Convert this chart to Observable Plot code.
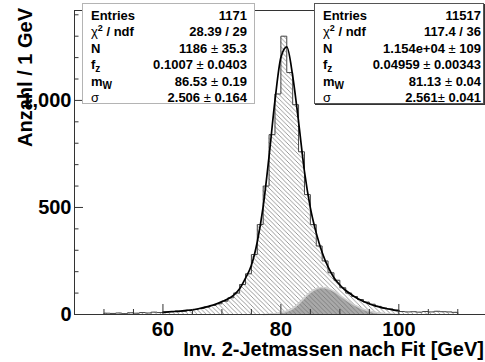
<!DOCTYPE html>
<html><head><meta charset="utf-8">
<script src="https://cdn.jsdelivr.net/npm/d3@7"></script>
<script src="https://cdn.jsdelivr.net/npm/@observablehq/plot@0.6"></script>
<style>
body{margin:0;background:#fff;}
#wrap{position:relative;width:485px;height:362px;overflow:hidden;font-family:"Liberation Sans",Arial,sans-serif;}
.box{position:absolute;background:#fff;box-sizing:border-box;}
.row{position:absolute;height:16px;line-height:16px;font-size:13px;font-weight:bold;color:#000;white-space:nowrap;}
.sym{font-weight:normal;}
sup{font-size:9px;vertical-align:0;position:relative;top:-5px;}
sub{font-size:10px;vertical-align:0;position:relative;top:3px;}
</style></head><body><div id="wrap"></div>
<script>
// ---- data ----
const binStart = 50;          // GeV, first bin lower edge (1 GeV bins)
const mainCounts = [6,5,7,4,8,6,9,7,11,9, 12,14,16,15,20,24,28,35,42,50,
  62,78,100,140,190,280,420,600,840,1030, 1300,1130,980,760,560,420,320,250,195,160,
  125,100,84,70,58,48,38,30,26,20, 14,12,13,11,14,12,15,13,12,10];
const fitStart = 60;          // GeV, fit curve sampled every 1 GeV
const fitValues = [10,12,14,16,19,22,27,33,40,49, 60,72,90,120,170,230,340,505,740,1000,
  1200,1250,1115,900,668,498,380,290,222,172, 138,112,92,75,61,50,40,33,27,22, 18];
const zStart = 77;            // GeV, second component sampled every 1 GeV
const zValues = [0,1,3,8,15,28,50,78,103,120,126,121,108,90,70,52,37,25,16,10,6,3,1,0];
const xDomain = [45, 114.7];
const yDomain = [0, 1420];
const xMajor = [60, 80, 100];
const xMinor = [45,50,55,65,70,75,85,90,95,105,110];
const yMajor = [0, 500, 1000];
const yMinor = [100,200,300,400,600,700,800,900,1100,1200,1300,1400];
const statLabels = ["Entries", "<span class=sym>χ</span><sup>2</sup> / ndf", "N", "f<sub>z</sub>", "m<sub>W</sub>", "<span class=sym>σ</span>"];
const statsLeft = ["1171", "28.39 / 29", "1186 ± 35.3", "0.1007 ± 0.0403", "86.53 ± 0.19", "2.506 ± 0.164"];
const statsRight = ["11517", "117.4 / 36", "1.154e+04 ± 109", "0.04959 ± 0.00343", "81.13 ± 0.04", "2.561± 0.041"];
const xTitle = "Inv. 2-Jetmassen nach Fit [GeV]";
const yTitle = "Anzahl / 1 GeV";

// ---- derived tables ----
const histPts = [{x: binStart, y: 0}];
mainCounts.forEach((c, i) => { histPts.push({x: binStart + i, y: c}, {x: binStart + i + 1, y: c}); });
histPts.push({x: binStart + mainCounts.length, y: 0});
const fitPts = fitValues.map((v, i) => ({x: fitStart + i, y: v}));
const zPts = zValues.map((v, i) => ({x: zStart + i, y: v}));

const axisCol = "#333";
const chart = Plot.plot({
  width: 485, height: 362,
  marginLeft: 74, marginRight: 0, marginTop: 10, marginBottom: 48,
  style: {background: "transparent", fontFamily: "'Liberation Sans', Arial, sans-serif", color: "#000"},
  x: {domain: xDomain},
  y: {domain: yDomain},
  marks: [
    Plot.areaY(histPts, {x: "x", y1: 0, y2: "y", fill: "url(#hatchMain)"}),
    Plot.areaY(zPts, {x: "x", y1: 0, y2: "y", fill: "#707070", fillOpacity: 0.6, curve: "monotone-x"}),
    Plot.lineY(zPts, {x: "x", y: "y", stroke: "#d0d0d0", strokeWidth: 1.6, curve: "monotone-x"}),
    Plot.lineY(histPts, {x: "x", y: "y", stroke: "#444", strokeWidth: 1}),
    Plot.lineY(fitPts, {x: "x", y: "y", stroke: "#000", strokeWidth: 1.7, curve: "monotone-x"}),
    Plot.ruleY([yDomain[1]], {stroke: axisCol}),
    Plot.ruleX([xDomain[0]], {stroke: axisCol}),
    Plot.ruleY([0], {stroke: axisCol}),
    Plot.axisY({ticks: yMinor, tickSize: -4.5, text: null, label: null, color: axisCol}),
    Plot.axisY({ticks: yMajor, tickSize: -9, text: null, label: null, color: axisCol}),
    Plot.axisY({ticks: yMajor, tickSize: 0, tickPadding: 3, fontSize: 20, fontWeight: "bold", label: null, color: "#000"}),
    Plot.axisX({ticks: xMinor, tickSize: -5, text: null, label: null, color: axisCol}),
    Plot.axisX({ticks: xMajor, tickSize: -10, text: null, label: null, color: axisCol}),
    Plot.axisX({ticks: xMajor, tickSize: 0, tickPadding: 7, fontSize: 20, fontWeight: "bold", label: null, color: "#000"})
  ]
});

const svg = d3.select(chart);
const defs = svg.insert("defs", ":first-child");
const pat = defs.append("pattern").attr("id", "hatchMain").attr("patternUnits", "userSpaceOnUse").attr("width", 4.5).attr("height", 4.5);
pat.append("rect").attr("width", 4.5).attr("height", 4.5).attr("fill", "#fff");
pat.append("path").attr("d", "M0,0L4.5,4.5M-1,3.5L1,5.5M3.5,-1L5.5,1").attr("stroke", "#808080").attr("stroke-width", 0.8).attr("fill", "none");

svg.append("text").text(yTitle)
  .attr("transform", "translate(32,8) rotate(-90)")
  .attr("text-anchor", "end").attr("font-size", 20).attr("font-weight", "bold")
  .attr("font-family", "'Liberation Sans', Arial, sans-serif").attr("fill", "#000");
svg.append("text").text(xTitle)
  .attr("x", 484).attr("y", 356)
  .attr("text-anchor", "end").attr("font-size", 20).attr("font-weight", "bold")
  .attr("font-family", "'Liberation Sans', Arial, sans-serif").attr("fill", "#000");

const wrap = document.getElementById("wrap");
wrap.appendChild(chart);
chart.style.position = "absolute"; chart.style.left = "0"; chart.style.top = "0";

function statBox(left, top, width, height, border, shadow, values, padL, padR) {
  const box = document.createElement("div");
  box.className = "box";
  Object.assign(box.style, {left: left + "px", top: top + "px", width: width + "px", height: height + "px",
    border: "1px solid " + border, boxShadow: shadow});
  statLabels.forEach((lab, i) => {
    const cy = 12 + i * 16.4;
    const l = document.createElement("div");
    l.className = "row"; l.style.left = padL + "px"; l.style.top = (cy - 8) + "px";
    l.innerHTML = lab;
    const v = document.createElement("div");
    v.className = "row"; v.style.right = padR + "px"; v.style.top = (cy - 8) + "px";
    v.innerHTML = values[i].replace("±", "<span class=sym>±</span>");
    box.appendChild(l); box.appendChild(v);
  });
  wrap.appendChild(box);
}
statBox(82, 3, 173, 101, "#b4b4b4", "none", statsLeft, 8, 7);
statBox(314, 3, 170, 101, "#555", "1px 1px 0 #333", statsRight, 8, 2);
</script></body></html>
